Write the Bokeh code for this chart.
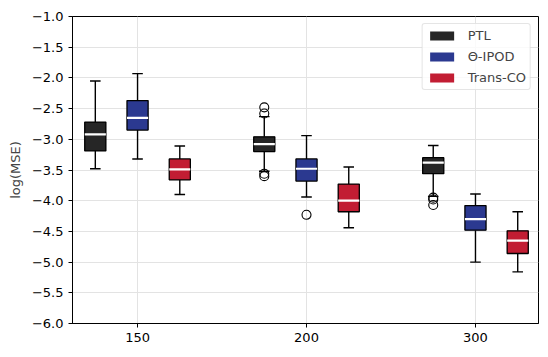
from bokeh.plotting import figure
from bokeh.models import (FixedTicker, Range1d, ColumnDataSource, Legend, LegendItem,
                          CustomJSTickFormatter)
from bokeh.embed import file_html
from bokeh.resources import INLINE

groups = ["150", "200", "300"]
group_pos = [1, 2, 3]
methods = ["PTL", "Θ-IPOD", "Trans-CO"]
colors = ["#262626", "#2b3990", "#c21d33"]

ptl_lo = [-3.48, -3.52, -3.93]
ptl_q1 = [-3.19, -3.20, -3.56]
ptl_med = [-2.92, -3.08, -3.38]
ptl_q3 = [-2.72, -2.96, -3.30]
ptl_hi = [-2.05, -2.63, -3.10]

ipod_lo = [-3.32, -3.94, -5.00]
ipod_q1 = [-2.85, -3.68, -4.48]
ipod_med = [-2.65, -3.48, -4.30]
ipod_q3 = [-2.37, -3.32, -4.08]
ipod_hi = [-1.93, -2.94, -3.89]

trans_lo = [-3.90, -4.44, -5.16]
trans_q1 = [-3.66, -4.18, -4.86]
trans_med = [-3.49, -4.00, -4.65]
trans_q3 = [-3.32, -3.73, -4.49]
trans_hi = [-3.11, -3.45, -4.18]

outlier_method = [0, 0, 0, 0, 1, 0, 0, 0]
outlier_group = [1, 1, 1, 1, 1, 2, 2, 2]
outlier_value = [-2.48, -2.58, -3.56, -3.60, -4.23, -3.95, -3.98, -4.07]

stats = [
    (ptl_lo, ptl_q1, ptl_med, ptl_q3, ptl_hi),
    (ipod_lo, ipod_q1, ipod_med, ipod_q3, ipod_hi),
    (trans_lo, trans_q1, trans_med, trans_q3, trans_hi),
]
offsets = [-0.25, 0.0, 0.25]
bw = 0.125

FONT = "DejaVu Sans"

p = figure(width=546, height=355, output_backend="svg", toolbar_location=None,
           x_range=Range1d(0.615, 3.373), y_range=Range1d(-6.0, -1.0),
           min_border_left=72, min_border_right=8, min_border_top=16, min_border_bottom=32)
p.frame_width = 466
p.frame_height = 307
p.background_fill_color = "white"
p.outline_line_color = "black"
p.outline_line_width = 1

p.xaxis.ticker = FixedTicker(ticks=group_pos)
p.xaxis.major_label_overrides = {gp: g for gp, g in zip(group_pos, groups)}
p.yaxis.ticker = FixedTicker(ticks=[-1.0 - 0.5 * i for i in range(11)])
p.yaxis.formatter = CustomJSTickFormatter(code="return tick.toFixed(1).replace('-', '\u2212');")
p.yaxis.axis_label = "log(MSE)"
for ax in [p.xaxis[0], p.yaxis[0]]:
    ax.major_label_text_font = FONT
    ax.major_label_text_font_size = "13px"
    ax.major_label_text_color = "black"
    ax.axis_label_text_font = FONT
    ax.axis_label_text_font_size = "13px"
    ax.axis_label_text_font_style = "normal"
    ax.major_tick_out = 4
    ax.major_tick_in = 0
    ax.minor_tick_line_color = None
    ax.axis_line_color = "black"
    ax.major_tick_line_color = "black"
p.yaxis.axis_label_standoff = 6
p.grid.grid_line_color = "#e3e3e3"
p.grid.grid_line_width = 1

legend_items = []
for m, (lo, q1, med, q3, hi) in enumerate(stats):
    xs = [g + offsets[m] for g in group_pos]
    src = ColumnDataSource(dict(x=xs, lo=lo, q1=q1, med=med, q3=q3, hi=hi,
                                l=[x - bw / 2 for x in xs], r=[x + bw / 2 for x in xs],
                                cl=[x - bw / 4 for x in xs], cr=[x + bw / 4 for x in xs]))
    p.segment(x0="x", y0="q3", x1="x", y1="hi", source=src, line_color="black", line_width=1.4)
    p.segment(x0="x", y0="lo", x1="x", y1="q1", source=src, line_color="black", line_width=1.4)
    p.segment(x0="cl", y0="hi", x1="cr", y1="hi", source=src, line_color="black", line_width=1.4)
    p.segment(x0="cl", y0="lo", x1="cr", y1="lo", source=src, line_color="black", line_width=1.4)
    leg = p.quad(left="l", right="r", bottom="q1", top="q3", source=src,
                 fill_color=colors[m], line_color=None)
    p.quad(left="l", right="r", bottom="q1", top="q3", source=src,
           fill_color=colors[m], line_color="black", line_width=1.3)
    p.segment(x0="l", y0="med", x1="r", y1="med", source=src, line_color="white", line_width=2.2)
    legend_items.append(LegendItem(label=methods[m], renderers=[leg]))

ox = [group_pos[g] + offsets[m] for m, g in zip(outlier_method, outlier_group)]
p.scatter(ox, outlier_value, marker="circle", size=9, fill_color=None,
          line_color="black", line_width=1.1)

legend = Legend(items=legend_items, location="top_right")
legend.label_text_font = FONT
legend.label_text_font_size = "13px"
legend.glyph_width = 30
legend.glyph_height = 11
legend.label_height = 15
legend.spacing = 6
legend.padding = 4
legend.margin = 7
legend.label_standoff = 11
legend.border_line_color = "#cccccc"
legend.border_line_width = 1
legend.background_fill_alpha = 0.8
try:
    legend.border_radius = 3
except Exception:
    pass
p.add_layout(legend)

open("out.html", "w").write(file_html(p, INLINE))
